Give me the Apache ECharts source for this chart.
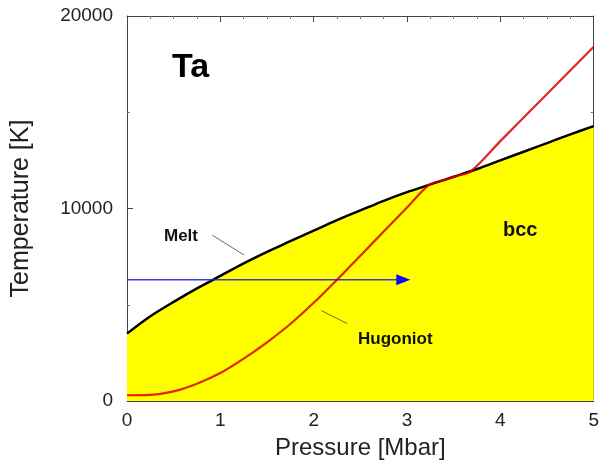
<!DOCTYPE html>
<html>
<head>
<meta charset="utf-8">
<script src="https://cdn.jsdelivr.net/npm/echarts@6/dist/echarts.min.js"></script>
<style>
  html, body { margin: 0; padding: 0; background: #fff; }
  #chart { width: 602px; height: 465px; }
</style>
</head>
<body>
<div id="chart"></div>
<script>
// Tantalum phase diagram: melt line (bcc region shaded) and principal Hugoniot
const pressureTicks = [0, 1, 2, 3, 4, 5];            // Mbar
const temperatureTicks = [0, 10000, 20000];          // K

// Melt curve, pressure [Mbar] vs temperature [K]
const meltP = [0, 0.25, 0.5, 0.75, 1, 1.25, 1.5, 1.75, 2, 2.25, 2.5, 2.75, 3, 3.25, 3.5, 3.75, 4, 4.25, 4.5, 4.75, 5];
const meltT = [3500, 4400, 5150, 5850, 6500, 7150, 7750, 8300, 8850, 9400, 9900, 10400, 10850, 11250, 11650, 12050, 12500, 12950, 13400, 13850, 14280];

// Hugoniot, pressure [Mbar] vs temperature [K]
const hugP = [0, 0.25, 0.5, 0.75, 1, 1.25, 1.5, 1.75, 2, 2.25, 2.5, 2.75, 3, 3.24, 3.4, 3.54, 3.68, 4, 4.5, 5];
const hugT = [300, 320, 500, 900, 1450, 2200, 3050, 4000, 5100, 6300, 7550, 8800, 10050, 11240, 11480, 11700, 11920, 13500, 15950, 18400];

// Isothermal compression path (arrow), ending at its head
const pathP = [0, 2.96];
const pathT = [6300, 6300];

// Label leader lines
const meltLeaderP = [0.915, 1.255];
const meltLeaderT = [8610, 7580];
const hugLeaderP = [2.085, 2.36];
const hugLeaderT = [4690, 4020];

const zip = (a, b) => a.map((v, i) => [v, b[i]]);

const chart = echarts.init(document.getElementById('chart'));
const FONT = '"Liberation Sans", Arial, Helvetica, sans-serif';

const axisLine = { show: true, onZero: false, lineStyle: { color: '#444', width: 1 } };
const tick = { inside: true, length: 6, lineStyle: { color: '#444' } };

const option = {
  animation: false,
  backgroundColor: '#ffffff',
  grid: { left: 127, right: 5, top: 16, bottom: 61, containLabel: false },
  xAxis: [
    {
      type: 'value', min: 0, max: 5, interval: 1,
      name: 'Pressure [Mbar]', nameLocation: 'middle', nameGap: 35,
      nameTextStyle: { fontFamily: FONT, fontSize: 24, color: '#222' },
      axisLine: axisLine, axisTick: tick,
      minorTick: { show: true, splitNumber: 4, length: 3, lineStyle: { color: '#777' } },
      axisLabel: { fontFamily: FONT, fontSize: 19, color: '#222', margin: 10,
                   formatter: v => pressureTicks.includes(v) ? String(v) : '' },
      splitLine: { show: false }
    },
    {
      type: 'value', position: 'top', min: 0, max: 5, interval: 1,
      axisLine: axisLine, axisTick: tick,
      minorTick: { show: true, splitNumber: 4, length: 3, lineStyle: { color: '#777' } },
      axisLabel: { show: false }, splitLine: { show: false }
    }
  ],
  yAxis: [
    {
      type: 'value', min: 0, max: 20000, interval: 10000,
      name: 'Temperature [K]', nameLocation: 'middle', nameGap: 93, nameRotate: 90,
      nameTextStyle: { fontFamily: FONT, fontSize: 25, color: '#222' },
      axisLine: axisLine, axisTick: tick,
      minorTick: { show: true, splitNumber: 2, length: 3, lineStyle: { color: '#777' } },
      axisLabel: { fontFamily: FONT, fontSize: 19, color: '#222', margin: 14,
                   formatter: v => temperatureTicks.includes(v) ? String(v) : '' },
      splitLine: { show: false }
    },
    {
      type: 'value', position: 'right', min: 0, max: 20000, interval: 10000,
      axisLine: axisLine, axisTick: tick,
      minorTick: { show: true, splitNumber: 2, length: 3, lineStyle: { color: '#777' } },
      axisLabel: { show: false }, splitLine: { show: false }
    }
  ],
  series: [
    {
      name: 'Melt', type: 'line', data: zip(meltP, meltT),
      smooth: 0.3, symbol: 'none', z: 3,
      lineStyle: { color: '#000', width: 2.5 },
      areaStyle: { color: '#ffff00', opacity: 1, origin: 'start' }
    },
    {
      name: 'Hugoniot', type: 'line', data: zip(hugP, hugT),
      smooth: 0.3, symbol: 'none', z: 4,
      lineStyle: { color: '#dd0000', width: 2.2, opacity: 0.85 }
    },
    {
      name: 'Path', type: 'line', data: zip(pathP, pathT),
      symbol: 'none', z: 5,
      lineStyle: { color: '#1c1cdd', width: 1.6, opacity: 0.85 },
      markPoint: {
        silent: true, animation: false,
        symbol: 'path://M0,0 L14,5.5 L0,11 Z', symbolSize: [14, 11],
        itemStyle: { color: '#0a0af0' },
        label: { show: false },
        data: [{ coord: [pathP[1], pathT[1]] }]
      }
    },
    {
      name: 'MeltLeader', type: 'line', data: zip(meltLeaderP, meltLeaderT),
      symbol: 'none', z: 5, lineStyle: { color: '#444', width: 0.8 }
    },
    {
      name: 'HugLeader', type: 'line', data: zip(hugLeaderP, hugLeaderT),
      symbol: 'none', z: 5, lineStyle: { color: '#444', width: 0.8 }
    }
  ],
  graphic: [
    { type: 'text', left: 172, top: 51, z: 10,
      style: { text: 'Ta', fontFamily: FONT, fontSize: 34, fontWeight: 'bold', fill: '#000' } },
    { type: 'text', left: 164, top: 228, z: 10,
      style: { text: 'Melt', fontFamily: FONT, fontSize: 17, fontWeight: 'bold', fill: '#111' } },
    { type: 'text', left: 503, top: 220, z: 10,
      style: { text: 'bcc', fontFamily: FONT, fontSize: 20, fontWeight: 'bold', fill: '#111' } },
    { type: 'text', left: 358, top: 331, z: 10,
      style: { text: 'Hugoniot', fontFamily: FONT, fontSize: 17, fontWeight: 'bold', fill: '#111' } }
  ]
};

chart.setOption(option);
</script>
</body>
</html>
